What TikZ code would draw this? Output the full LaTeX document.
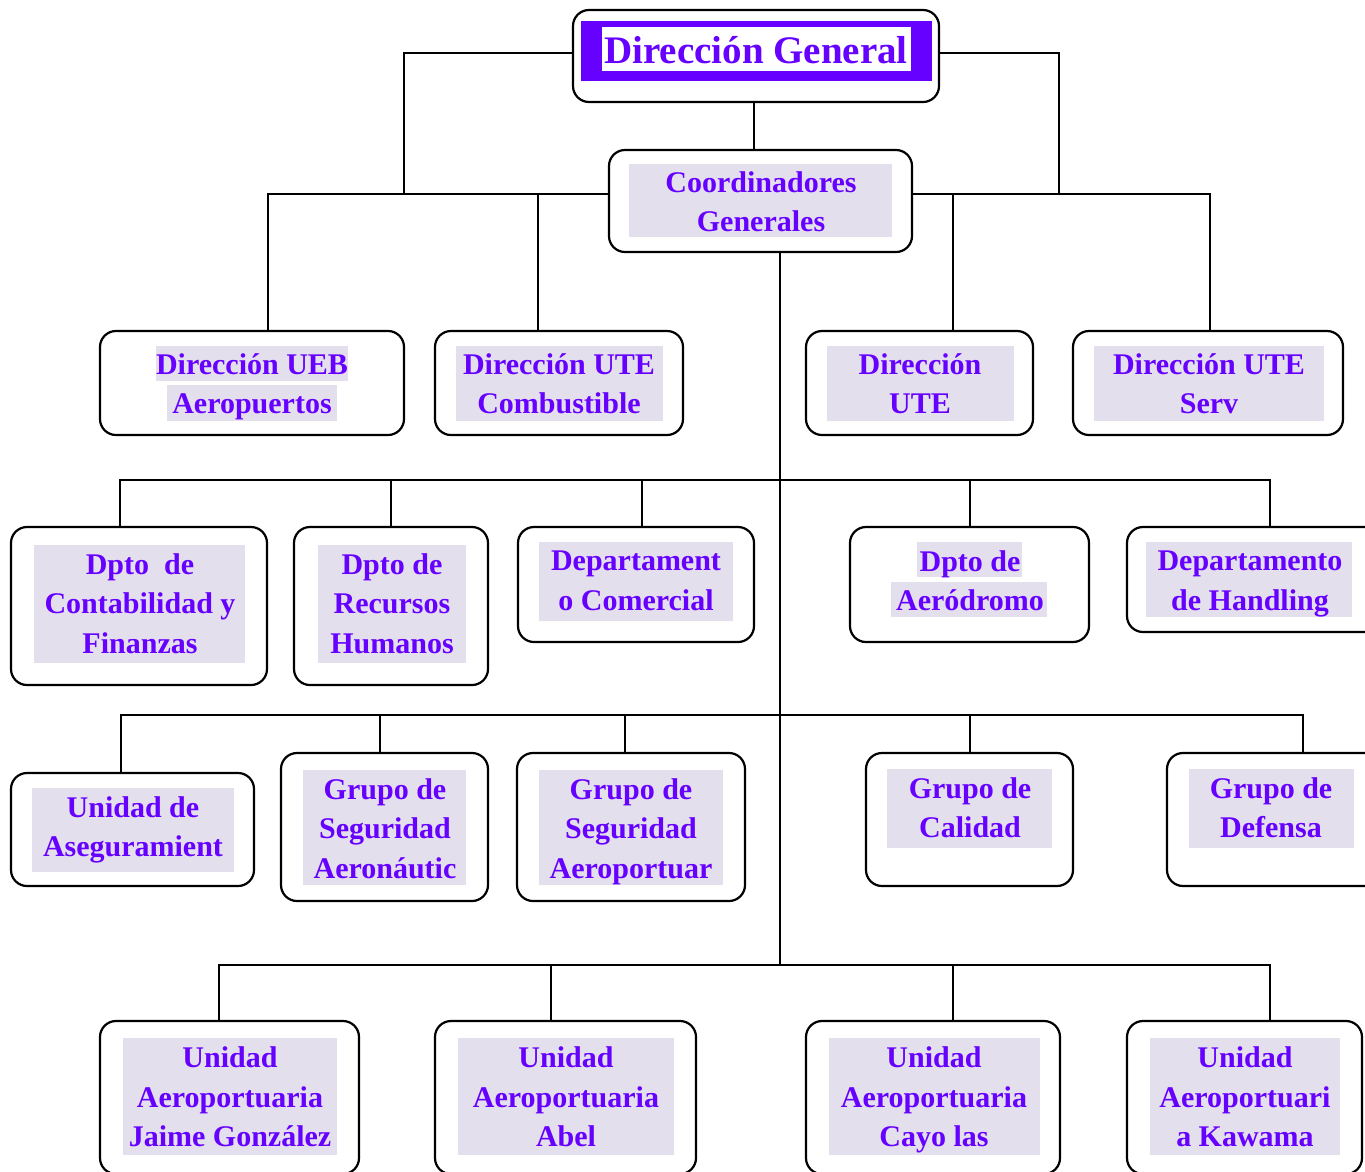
\documentclass[tikz,border=0pt]{standalone}
\usepackage{fontspec}
\setmainfont{Liberation Serif}
\definecolor{pur}{RGB}{102,0,255}
\definecolor{hlc}{RGB}{228,223,236}
\newcommand\unitbox[5]{\node[box,minimum width={#4pt-#2pt},minimum height={#5pt-#3pt}] (#1) at ({(#2+#4)/2},{(#3+#5)/2}) {};}
\newcommand\hlrect[4]{\fill[hlc] (#1,#2) rectangle (#3,#4);}
\tikzset{
  box/.style={draw=black, line width=2.2pt, rounded corners=16pt, fill=white, inner sep=0pt},
  lbl/.style={text=pur, font=\bfseries\fontsize{30}{39.5}\selectfont, align=center, inner sep=0pt,
    execute at begin node=\strut, execute at end node=\strut, yshift=-6.5pt},
  conn/.style={line width=2pt}
}
\begin{document}
\begin{tikzpicture}[x={(1pt,0)}, y={(0,-1pt)}]
\clip (0,0) rectangle (1365,1171);
\fill[white] (0,0) rectangle (1365,1171);

% ---------- boxes ----------
\unitbox{dg}{573}{10}{939}{102}
\fill[pur] (581,21) rectangle (932,81);
\fill[white] (602,27) rectangle (911,71);
\node[text=pur, font=\bfseries\fontsize{39}{40}\selectfont, inner sep=0pt, text height=26pt, text depth=0pt] (dg-t) at (756,50) {Dirección General};

\unitbox{cg}{609}{150}{912}{252}
\hlrect{629}{164}{892}{237}
\node[lbl] (cg-t) at (761,201) {Coordinadores\\Generales};

% row 1
\unitbox{ueb}{100}{331}{404}{435}
\hlrect{156}{346}{348}{381}
\hlrect{167}{385}{337}{421}
\node[lbl] (ueb-t) at (252,383) {Dirección UEB\\Aeropuertos};

\unitbox{comb}{435}{331}{683}{435}
\hlrect{456}{346}{663}{421}
\node[lbl] (comb-t) at (559,383) {Dirección UTE\\Combustible};

\unitbox{ute}{806}{331}{1033}{435}
\hlrect{827}{346}{1014}{421}
\node[lbl] (ute-t) at (920,383) {Dirección\\UTE};

\unitbox{serv}{1073}{331}{1343}{435}
\hlrect{1094}{346}{1324}{421}
\node[lbl] (serv-t) at (1209,383) {Dirección UTE\\Serv};

% row 2
\unitbox{conta}{11}{527}{267}{685}
\hlrect{34}{545}{245}{663}
\node[lbl] (conta-t) at (140,603) {Dpto\ \ de\\Contabilidad y\\Finanzas};

\unitbox{rrhh}{294}{527}{488}{685}
\hlrect{318}{545}{466}{663}
\node[lbl] (rrhh-t) at (392,603) {Dpto de\\Recursos\\Humanos};

\unitbox{com}{518}{527}{754}{642}
\hlrect{539}{542}{733}{621}
\node[lbl] (com-t) at (636,580) {Departament\\o Comercial};

\unitbox{aero}{850}{527}{1089}{642}
\hlrect{917}{542}{1022}{577}
\hlrect{891}{582}{1047}{617}
\node[lbl] (aero-t) at (970,580) {Dpto de\\Aeródromo};

\unitbox{hand}{1127}{527}{1385}{632}
\hlrect{1146}{542}{1352}{617}
\node[lbl] (hand-t) at (1250,580) {Departamento\\de Handling};

% row 3
\unitbox{aseg}{11}{773}{254}{886}
\hlrect{32}{788}{234}{872}
\node[lbl] (aseg-t) at (133,826) {Unidad de\\Aseguramient};

\unitbox{segae}{281}{753}{488}{901}
\hlrect{303}{770}{466}{885}
\node[lbl] (segae-t) at (385,828) {Grupo de\\Seguridad\\Aeronáutic};

\unitbox{segap}{517}{753}{745}{901}
\hlrect{539}{770}{723}{885}
\node[lbl] (segap-t) at (631,828) {Grupo de\\Seguridad\\Aeroportuar};

\unitbox{cal}{866}{753}{1073}{886}
\hlrect{887}{769}{1052}{848}
\node[lbl] (cal-t) at (970,807) {Grupo de\\Calidad};

\unitbox{def}{1167}{753}{1385}{886}
\hlrect{1189}{769}{1354}{848}
\node[lbl] (def-t) at (1271,807) {Grupo de\\Defensa};

% row 4
\unitbox{jg}{100}{1021}{359}{1174}
\hlrect{123}{1038}{337}{1155}
\node[lbl] (jg-t) at (230,1096) {Unidad\\Aeroportuaria\\Jaime González};

\unitbox{abel}{435}{1021}{696}{1174}
\hlrect{458}{1038}{674}{1155}
\node[lbl] (abel-t) at (566,1096) {Unidad\\Aeroportuaria\\Abel};

\unitbox{cayo}{806}{1021}{1060}{1174}
\hlrect{829}{1038}{1040}{1155}
\node[lbl] (cayo-t) at (934,1096) {Unidad\\Aeroportuaria\\Cayo las};

\unitbox{kaw}{1127}{1021}{1362}{1174}
\hlrect{1150}{1038}{1340}{1155}
\node[lbl] (kaw-t) at (1245,1096) {Unidad\\Aeroportuari\\a Kawama};

% ---------- connectors ----------
\coordinate (cgL) at (609,194);
\coordinate (cgR) at (912,194);
\coordinate (jL) at (404,194);
\coordinate (jR) at (1059,194);
\coordinate (trunk) at (780,252);
\coordinate (bar2) at (780,480);
\coordinate (bar3) at (780,715);
\coordinate (bar4) at (780,965);

\draw[conn] ([yshift=3pt]dg.west) -| (jL);
\draw[conn] ([yshift=3pt]dg.east) -| (jR);
\draw[conn] ([xshift=-2pt]dg.south) -- ([xshift=-2pt]dg.south |- cg.north);
\draw[conn] ([xshift=16pt]ueb.north) |- (cgL);
\draw[conn] ([xshift=-21pt]comb.north) -- ([xshift=-21pt]comb.north |- cgL);
\draw[conn] (cgR) -| ([xshift=2pt]serv.north);
\draw[conn] ([xshift=33pt]ute.north) -- ([xshift=33pt]ute.north |- cgR);
\draw[conn] (trunk) -- (bar4);

\draw[conn] ([xshift=-19pt]conta.north) |- (bar2) -| ([xshift=14pt]hand.north);
\draw[conn] (rrhh.north) -- (rrhh.north |- bar2);
\draw[conn] ([xshift=6pt]com.north) -- ([xshift=6pt]com.north |- bar2);
\draw[conn] (aero.north) -- (aero.north |- bar2);

\draw[conn] ([xshift=-12pt]aseg.north) |- (bar3) -| ([xshift=27pt]def.north);
\draw[conn] ([xshift=-5pt]segae.north) -- ([xshift=-5pt]segae.north |- bar3);
\draw[conn] ([xshift=-6pt]segap.north) -- ([xshift=-6pt]segap.north |- bar3);
\draw[conn] (cal.north) -- (cal.north |- bar3);

\draw[conn] ([xshift=-11pt]jg.north) |- (bar4) -| ([xshift=25pt]kaw.north);
\draw[conn] ([xshift=-15pt]abel.north) -- ([xshift=-15pt]abel.north |- bar4);
\draw[conn] ([xshift=20pt]cayo.north) -- ([xshift=20pt]cayo.north |- bar4);
\end{tikzpicture}
\end{document}
